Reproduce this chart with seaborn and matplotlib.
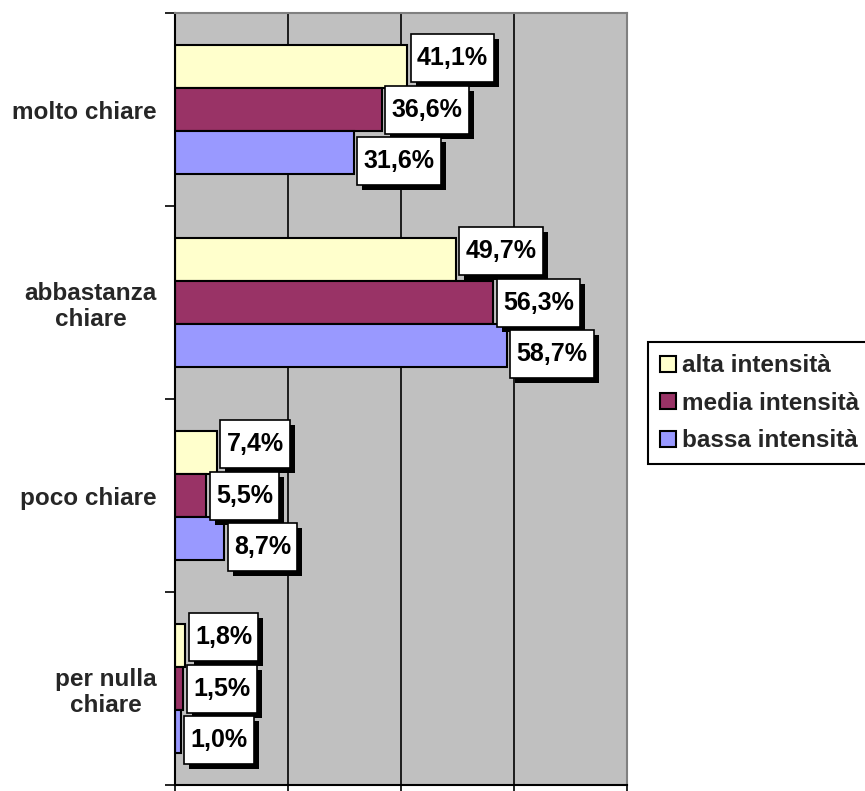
import matplotlib
matplotlib.use("Agg")
import matplotlib.pyplot as plt
import matplotlib.patheffects as pe
from matplotlib.path import Path
from matplotlib.patches import Patch
from matplotlib.ticker import FixedLocator
import pandas as pd
import seaborn as sns

categories = ["molto chiare", "abbastanza\nchiare", "poco chiare", "per nulla\nchiare"]
series = ["alta intensità", "media intensità", "bassa intensità"]
alta = [41.1, 49.7, 7.4, 1.8]
media = [36.6, 56.3, 5.5, 1.5]
bassa = [31.6, 58.7, 8.7, 1.0]
colors = ["#FFFFCC", "#993366", "#9999FF"]

df = pd.DataFrame({
    "categoria": categories * 3,
    "serie": [s for s in series for _ in categories],
    "valore": alta + media + bassa,
})

sns.set_style("white")
plt.rcParams["font.family"] = ["Liberation Sans", "DejaVu Sans"]
plt.rcParams["font.weight"] = "bold"

fig = plt.figure(figsize=(8.65, 7.91), dpi=100)
W, H = 865, 791
ax = fig.add_axes([175 / W, 1 - 785 / H, (627 - 175) / W, (785 - 13) / H])
ax.set_facecolor("#C0C0C0")

sns.barplot(data=df, y="categoria", x="valore", hue="serie", order=categories,
            hue_order=series, palette=colors, orient="h", width=0.667, gap=0,
            edgecolor="black", linewidth=1.5, saturation=1, ax=ax, zorder=2)

ax.set_xlim(0, 80)
ax.set_ylim(3.5, -0.5)
ax.set_xticks([0, 20, 40, 60, 80])
ax.set_xticklabels([])
ax.xaxis.grid(True, color="black", linewidth=1.2)
ax.yaxis.grid(False)
ax.set_axisbelow(True)
ax.tick_params(axis="x", which="major", direction="out", length=5, width=1.2,
               color="black", bottom=True)
ax.yaxis.set_minor_locator(FixedLocator([-0.5, 0.5, 1.5, 2.5, 3.5]))
ax.tick_params(axis="y", which="minor", direction="out", length=7, width=1.2,
               color="black", left=True)
ax.tick_params(axis="y", which="major", length=0, pad=13, labelsize=17.5)
for lbl in ax.get_yticklabels():
    lbl.set_fontweight("bold")
    lbl.set_multialignment("center")
    lbl.set_linespacing(1.15)
ax.set_xlabel("")
ax.set_ylabel("")

for side in ("left", "bottom"):
    ax.spines[side].set_color("black")
    ax.spines[side].set_linewidth(1.5)
for side in ("top", "right"):
    ax.spines[side].set_color("#808080")
    ax.spines[side].set_linewidth(1.5)
    ax.spines[side].set_visible(True)


def label_box(x0, y0, width, height, mutation_size):
    # white callout: fixed height, small side padding
    padx = 0.25 * mutation_size
    h = 1.92 * mutation_size
    cy = y0 + height / 2
    xa, xb = x0 - padx, x0 + width + padx
    ya, yb = cy - h / 2, cy + h / 2
    verts = [(xa, ya), (xb, ya), (xb, yb), (xa, yb), (xa, ya)]
    codes = [Path.MOVETO, Path.LINETO, Path.LINETO, Path.LINETO, Path.CLOSEPOLY]
    return Path(verts, codes)


fs = 18
off = 7.0       # points from bar end to text
spread = 6.0    # vertical fan-out of the three callouts, points
box_shadow = [pe.SimplePatchShadow(offset=(3.6, -3.6), shadow_rgbFace="black", alpha=1.0),
              pe.Normal()]
for k, container in enumerate(ax.containers):
    dy = (1 - k) * spread
    for bar in container:
        w = bar.get_width()
        yc = bar.get_y() + bar.get_height() / 2
        txt = f"{w:.1f}".replace(".", ",") + "%"
        t = ax.annotate(txt, xy=(w, yc), xytext=(off, dy), textcoords="offset points",
                        ha="left", va="center", fontsize=fs, fontweight="bold", color="black",
                        bbox=dict(boxstyle=label_box, facecolor="white", edgecolor="black",
                                  linewidth=1.2),
                        zorder=5, annotation_clip=False)
        t.get_bbox_patch().set_path_effects(box_shadow)

if ax.get_legend() is not None:
    ax.get_legend().remove()
handles = [Patch(facecolor=c, edgecolor="black", linewidth=1.5, label=s)
           for c, s in zip(colors, series)]
leg = fig.legend(handles=handles, loc="upper left",
                 bbox_to_anchor=(648 / W, 1 - 342 / H), frameon=True, fancybox=False,
                 framealpha=1, edgecolor="black", handlelength=0.65, handleheight=0.65,
                 handletextpad=0.25, borderpad=0.5, labelspacing=0.6, borderaxespad=0,
                 prop={"size": 17.5, "weight": "bold"})
leg.get_frame().set_linewidth(1.5)

fig.savefig("out.png", dpi=100, facecolor="white")
